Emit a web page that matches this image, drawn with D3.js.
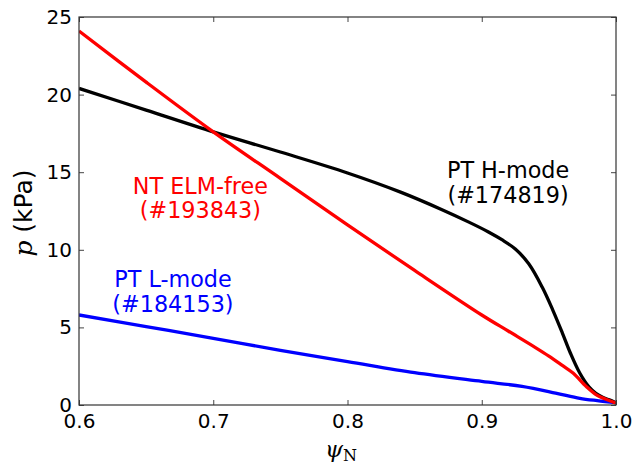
<!DOCTYPE html>
<html>
<head>
<meta charset="utf-8">
<script src="https://cdn.jsdelivr.net/npm/d3@7"></script>
<style>
  html, body { margin: 0; padding: 0; background: #fff; }
  svg { display: block; }
  text { font-family: "DejaVu Sans", sans-serif; }
</style>
</head>
<body>
<svg id="chart" width="634" height="466"></svg>
<script>
// Pressure profiles p(psi_N) for three discharges
const psiHmode = [0.60, 0.65, 0.70, 0.75, 0.80, 0.84, 0.87, 0.89, 0.905, 0.915, 0.925, 0.935, 0.945, 0.953, 0.96, 0.966, 0.973, 0.98, 0.985, 0.99, 0.995, 1.0];
const pHmode   = [20.4, 19.0, 17.6, 16.3, 14.95, 13.7, 12.6, 11.8, 11.15, 10.65, 10.05, 9.1, 7.6, 6.1, 4.65, 3.35, 2.06, 1.15, 0.75, 0.5, 0.33, 0.15];

const psiElmFree = [0.60, 0.65, 0.70, 0.75, 0.80, 0.85, 0.90, 0.92, 0.94, 0.95, 0.96, 0.968, 0.978, 0.986, 0.993, 1.0];
const pElmFree   = [24.1, 20.8, 17.6, 14.6, 11.6, 8.67, 5.8, 4.75, 3.7, 3.15, 2.55, 2.06, 1.18, 0.62, 0.36, 0.12];

const psiLmode = [0.60, 0.65, 0.70, 0.75, 0.80, 0.85, 0.90, 0.93, 0.955, 0.973, 0.986, 1.0];
const pLmode   = [5.8, 5.05, 4.3, 3.52, 2.8, 2.08, 1.52, 1.2, 0.77, 0.43, 0.28, 0.15];

const xTicks = [0.6, 0.7, 0.8, 0.9, 1.0];
const yTicks = [0, 5, 10, 15, 20, 25];

const seriesNames  = ["PT H-mode", "NT ELM-free", "PT L-mode"];
const seriesShots  = ["(#174819)", "(#193843)", "(#184153)"];
const seriesColors = ["#000000", "#ff0000", "#0000ff"];

const margin = { left: 79, top: 17, right: 18, bottom: 61 };
const W = 634, H = 466;
const iw = W - margin.left - margin.right;
const ih = H - margin.top - margin.bottom;

const svg = d3.select("#chart");
const g = svg.append("g").attr("transform", `translate(${margin.left},${margin.top})`);

const x = d3.scaleLinear().domain([0.6, 1.0]).range([0, iw]);
const y = d3.scaleLinear().domain([0, 25]).range([ih, 0]);

g.append("clipPath").attr("id", "plotclip")
  .append("rect").attr("x", 0).attr("y", 0).attr("width", iw).attr("height", ih);

const line = d3.line()
  .x(d => x(d[0]))
  .y(d => y(d[1]))
  .curve(d3.curveCatmullRom.alpha(0.5));

const series = [
  { psi: psiHmode, p: pHmode },
  { psi: psiElmFree, p: pElmFree },
  { psi: psiLmode, p: pLmode }
];

const lines = g.append("g").attr("clip-path", "url(#plotclip)");
// L-mode first, then H-mode, ELM-free on top
[2, 0, 1].forEach(i => {
  const s = series[i];
  lines.append("path")
    .datum(s.psi.map((v, j) => [v, s.p[j]]))
    .attr("fill", "none")
    .attr("stroke", seriesColors[i])
    .attr("stroke-width", 3.3)
    .attr("stroke-linejoin", "round")
    .attr("d", line);
});

// Axes with inward ticks on all four sides
const tickColor = "#444";
function styleAxis(sel) {
  sel.select(".domain").remove();
  sel.selectAll(".tick line").attr("stroke", tickColor).attr("stroke-width", 1);
  sel.selectAll(".tick text")
    .attr("fill", "#000")
    .style("font-family", '"DejaVu Sans", sans-serif')
    .style("font-size", "20px");
}

g.append("g").attr("transform", `translate(0,${ih})`)
  .call(d3.axisBottom(x).tickValues(xTicks).tickFormat(d3.format(".1f")).tickSize(-5).tickPadding(9))
  .call(styleAxis);

g.append("g")
  .call(d3.axisTop(x).tickValues(xTicks).tickFormat("").tickSize(-5))
  .call(styleAxis);

g.append("g")
  .call(d3.axisLeft(y).tickValues(yTicks).tickFormat(d3.format("d")).tickSize(-5).tickPadding(7))
  .call(styleAxis);

g.append("g").attr("transform", `translate(${iw},0)`)
  .call(d3.axisRight(y).tickValues(yTicks).tickFormat("").tickSize(-5))
  .call(styleAxis);

// Frame
g.append("rect")
  .attr("x", 0).attr("y", 0).attr("width", iw).attr("height", ih)
  .attr("fill", "none").attr("stroke", "#333").attr("stroke-width", 1.2);

// Series annotations
const labelPos = [
  { psi: 0.9196, p: 14.63 },
  { psi: 0.6904, p: 13.61 },
  { psi: 0.6700, p: 7.58 }
];
labelPos.forEach((lp, i) => {
  const t = g.append("text")
    .attr("x", x(lp.psi))
    .attr("y", y(lp.p))
    .attr("text-anchor", "middle")
    .attr("fill", seriesColors[i])
    .style("font-size", "22.3px");
  t.append("tspan").attr("x", x(lp.psi)).text(seriesNames[i]);
  t.append("tspan").attr("x", x(lp.psi)).attr("dy", 24.6).text(seriesShots[i]);
});

// Axis titles
const xl = svg.append("text")
  .attr("x", 341)
  .attr("y", 457)
  .attr("text-anchor", "middle")
  .style("font-family", '"DejaVu Serif", serif')
  .style("font-size", "23px");
xl.append("tspan").style("font-style", "italic").text("ψ");
xl.append("tspan").attr("dy", 4).style("font-size", "16px").text("N");

const yl = svg.append("text")
  .attr("transform", "translate(32,213) rotate(-90)")
  .attr("text-anchor", "middle")
  .style("font-size", "25px");
yl.append("tspan").style("font-family", '"DejaVu Serif", serif').style("font-style", "italic").text("p");
yl.append("tspan").text(" (kPa)");
</script>
</body>
</html>
